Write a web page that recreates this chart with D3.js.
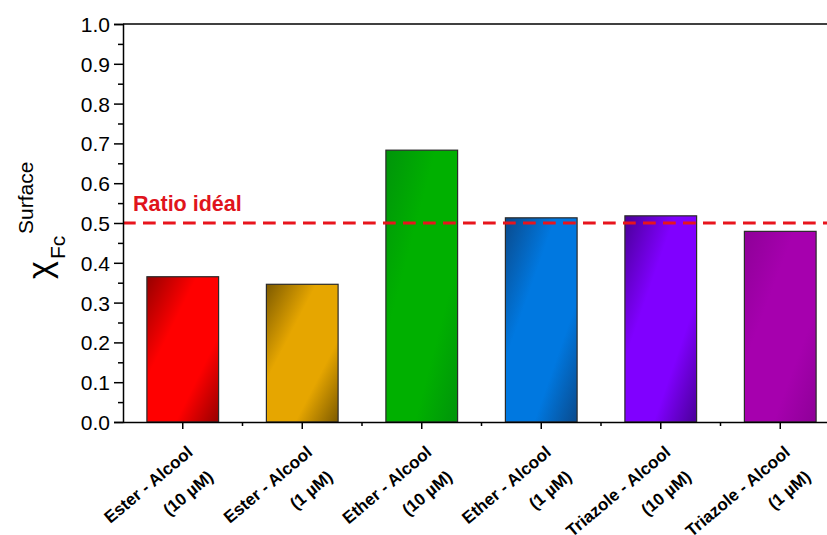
<!DOCTYPE html>
<html><head><meta charset="utf-8">
<script src="https://cdn.jsdelivr.net/npm/d3@7"></script>
<style>body{margin:0;background:#fff}svg{display:block}text{font-family:"Liberation Sans",Arial,sans-serif}</style>
</head><body><svg id="c" width="827" height="535"></svg>
<script>
const labelLine1 = ["Ester - Alcool","Ester - Alcool","Ether - Alcool","Ether - Alcool","Triazole - Alcool","Triazole - Alcool"];
const labelLine2 = ["(10 µM)","(1 µM)","(10 µM)","(1 µM)","(10 µM)","(1 µM)"];
const values = [0.365, 0.346, 0.683, 0.513, 0.518, 0.479];
const yTickValues = [0,0.1,0.2,0.3,0.4,0.5,0.6,0.7,0.8,0.9,1.0];
const yMinorValues = [0.05,0.15,0.25,0.35,0.45,0.55,0.65,0.75,0.85,0.95];
const idealRatio = 0.5;
const idealLabel = "Ratio idéal";
const barBright = ["#ff0000","#e6a600","#00b000","#0078e0","#8000ff","#a600ae"];
const barDark   = ["#960000","#7d5a00","#00940a","#0a4a8c","#4a0098","#8e0098"];

const svg = d3.select("#c");
const L=123, R=840, T=24, B=422;
const cats = d3.range(values.length);
const x = d3.scaleBand().domain(cats).range([L,R]).paddingInner(0.4).paddingOuter(0.2);
const y = d3.scaleLinear().domain([0,1]).range([B,T]);

const defs = svg.append("defs");
cats.forEach(i=>{
  const g = defs.append("linearGradient").attr("id","g"+i)
    .attr("x1",0).attr("y1",0).attr("x2",1).attr("y2",1);
  const stops = [[0,barDark[i]],[0.35,barBright[i]],[0.7,barBright[i]],[1,barDark[i]]];
  stops.forEach(s=>g.append("stop").attr("offset",s[0]).attr("stop-color",s[1]));
});

// bars
svg.append("g").selectAll("rect").data(values).join("rect")
  .attr("x",(d,i)=>x(i)).attr("width",x.bandwidth())
  .attr("y",d=>y(d)).attr("height",d=>B-y(d))
  .attr("fill",(d,i)=>"url(#g"+i+")")
  .attr("stroke","#2a2a2a").attr("stroke-width",1.2);

// ideal ratio line
svg.append("line").attr("x1",L).attr("x2",R).attr("y1",y(idealRatio)).attr("y2",y(idealRatio))
  .attr("stroke","#e8141c").attr("stroke-width",3).attr("stroke-dasharray","12.7,7.3");
svg.append("text").attr("x",133).attr("y",y(idealRatio)-12)
  .attr("fill","#e0141c").attr("font-weight","bold").attr("font-size",21.5).text(idealLabel);

// top border
svg.append("line").attr("x1",L).attr("x2",R).attr("y1",T).attr("y2",T).attr("stroke","#000").attr("stroke-width",1.5);

// y axis
const yAxis = svg.append("g").attr("transform",`translate(${L},0)`)
  .call(d3.axisLeft(y).tickValues(yTickValues).tickFormat(d3.format(".1f")).tickSize(9).tickPadding(4));
yAxis.attr("font-size",null).attr("font-family",null);
yAxis.select(".domain").attr("stroke-width",1.5);
yAxis.selectAll(".tick line").attr("stroke-width",1.5);
yAxis.selectAll(".tick text").style("font-size","21px").attr("fill","#000").attr("dy","0.36em");
const yMinor = svg.append("g").attr("transform",`translate(${L},0)`)
  .call(d3.axisLeft(y).tickValues(yMinorValues).tickFormat("").tickSize(5));
yMinor.select(".domain").remove();
yMinor.selectAll(".tick line").attr("stroke-width",1.5);

// x axis
const xAxis = svg.append("g").attr("transform",`translate(0,${B})`)
  .call(d3.axisBottom(x).tickFormat("").tickSize(7).tickSizeOuter(0));
xAxis.select(".domain").attr("stroke-width",1.5);
xAxis.selectAll(".tick line").attr("stroke-width",1.5);
const bounds = cats.map(i=>x(i)+x.bandwidth()/2 - x.step()/2).slice(1);
svg.append("g").selectAll("line").data(bounds).join("line")
  .attr("x1",d=>d).attr("x2",d=>d).attr("y1",B).attr("y2",B+4)
  .attr("stroke","#000").attr("stroke-width",1.5);

// x labels
const lab = svg.append("g").selectAll("g").data(cats).join("g")
  .attr("transform",i=>`translate(${x(i)+x.bandwidth()/2+11},${B+32}) rotate(-40)`);
lab.append("text").attr("text-anchor","end").attr("font-weight","bold").attr("font-size",17)
  .text(i=>labelLine1[i]);
lab.append("text").attr("text-anchor","end").attr("font-weight","bold").attr("font-size",17)
  .attr("y",32).text(i=>labelLine2[i]);

// y label
const yl = svg.append("g");
yl.append("text").attr("transform","translate(51,279) rotate(-90)").attr("font-size",34).text("χ");
yl.append("text").attr("transform","translate(65,259) rotate(-90)").attr("font-size",21).text("Fc");
yl.append("text").attr("transform","translate(33,234) rotate(-90)").attr("font-size",21).text("Surface");
</script></body></html>
